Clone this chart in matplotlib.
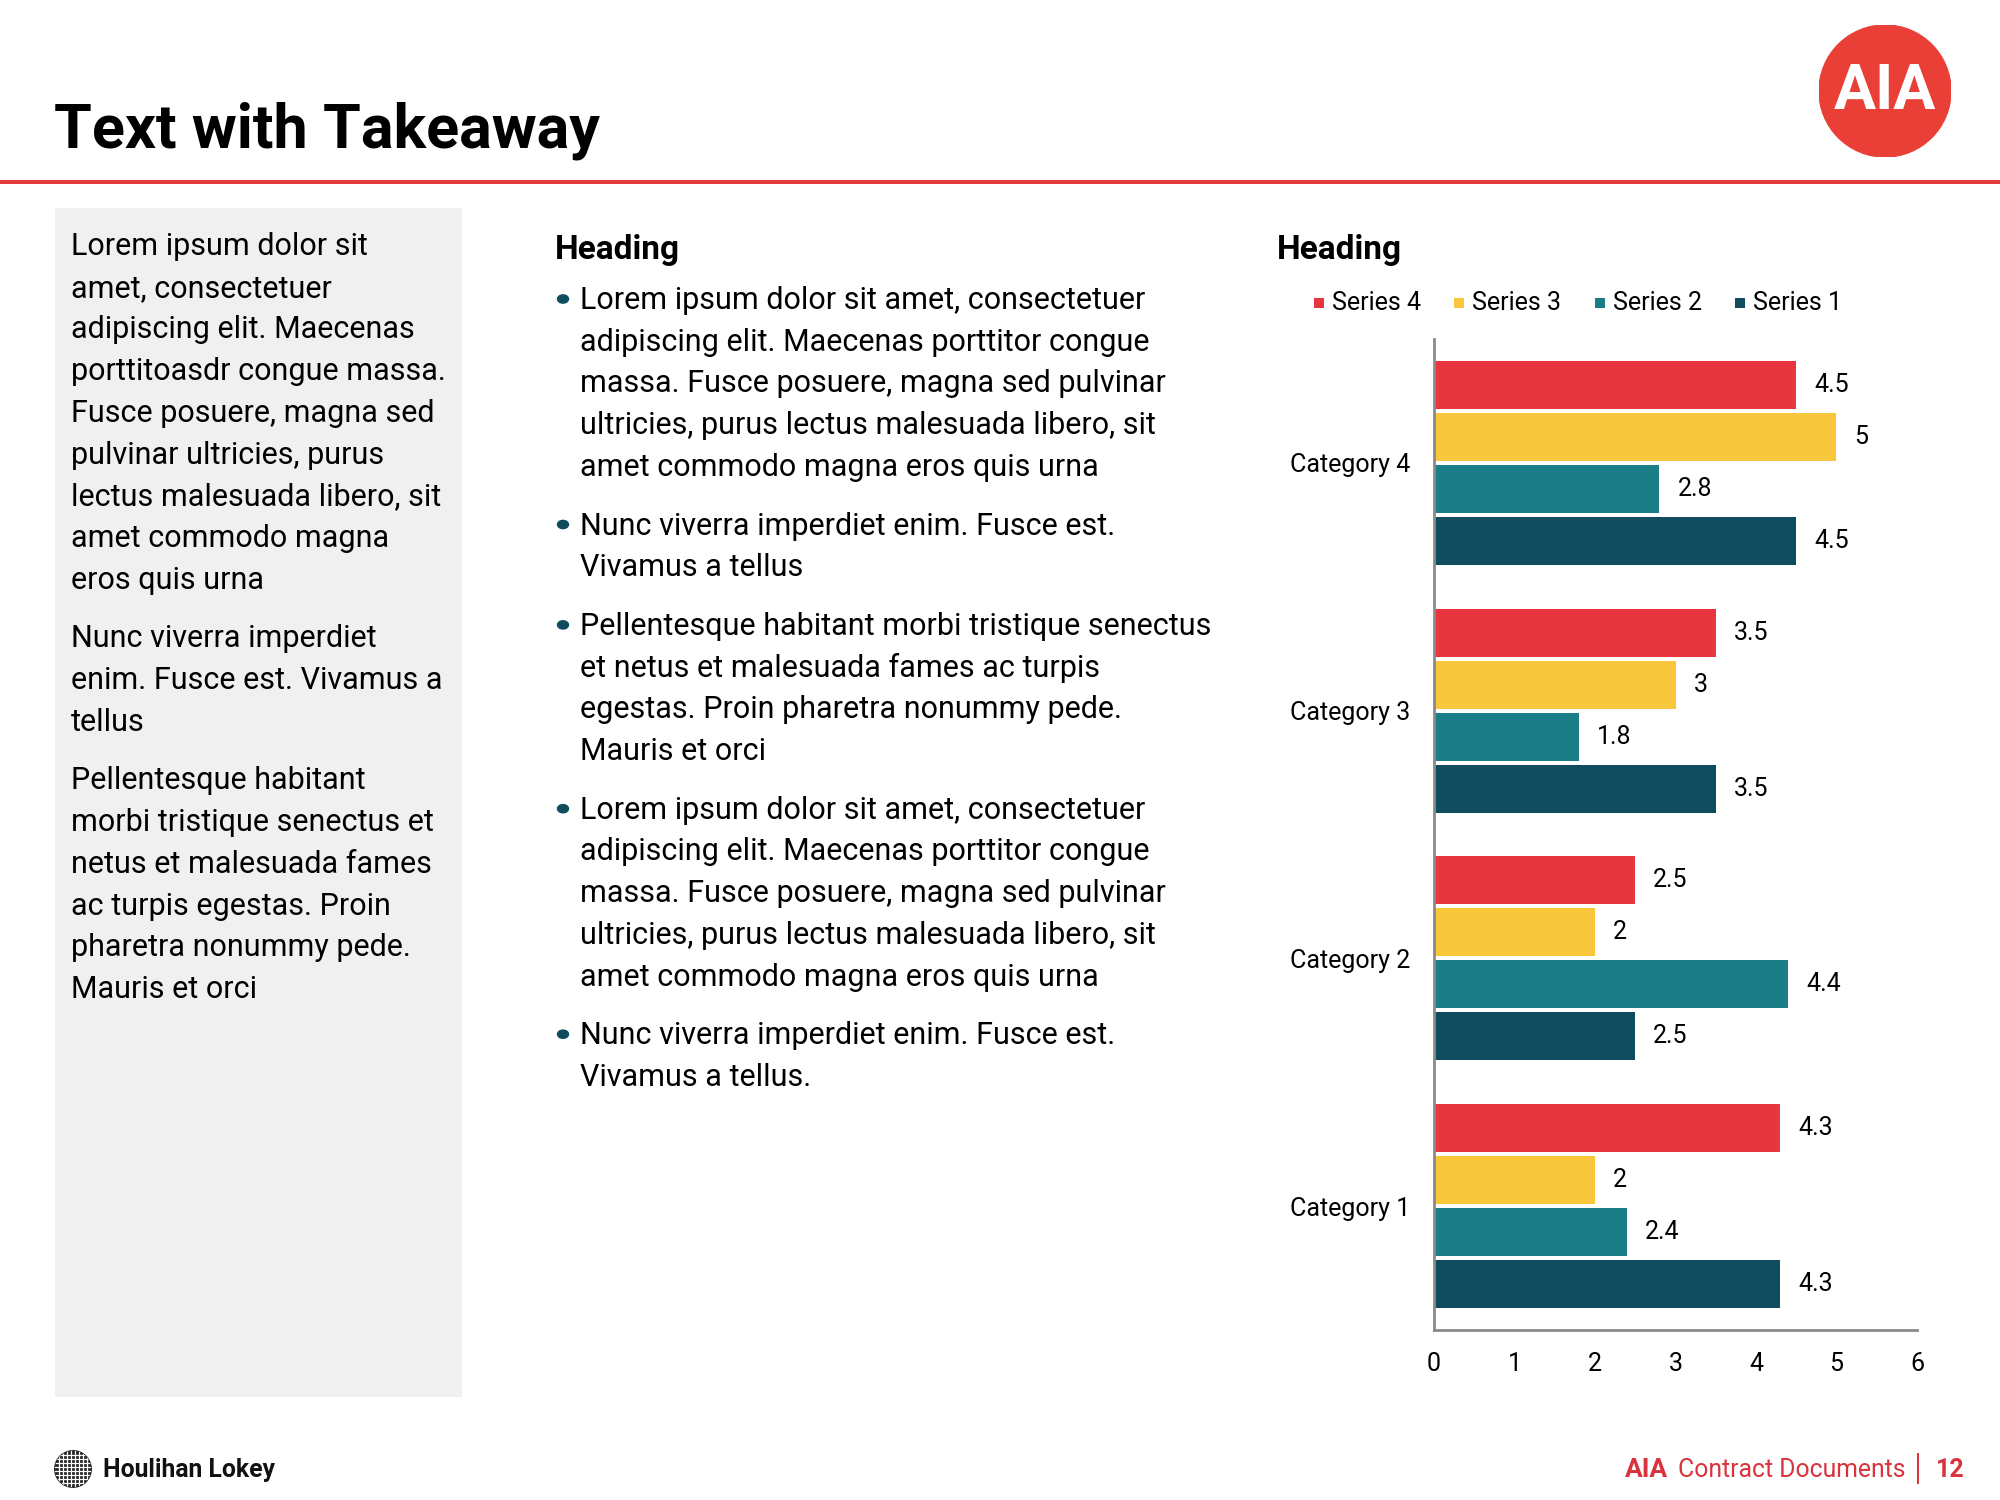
import numpy as np
import matplotlib
matplotlib.use("Agg")
import matplotlib.pyplot as plt
from matplotlib.patches import Circle, Rectangle

# Chart data
categories = ["Category 1", "Category 2", "Category 3", "Category 4"]
series_names = ["Series 1", "Series 2", "Series 3", "Series 4"]
series_1 = [4.3, 2.5, 3.5, 4.5]
series_2 = [2.4, 4.4, 1.8, 2.8]
series_3 = [2, 2, 3, 5]
series_4 = [4.3, 2.5, 3.5, 4.5]
series_colors = ["#0f4d5e", "#1a7d87", "#f9c73c", "#e8363f"]
x_ticks = [0, 1, 2, 3, 4, 5, 6]

# Slide text
title = "Text with Takeaway"
left_paragraphs = [
    ["Lorem ipsum dolor sit", "amet, consectetuer", "adipiscing elit. Maecenas",
     "porttitoasdr congue massa.", "Fusce posuere, magna sed", "pulvinar ultricies, purus",
     "lectus malesuada libero, sit", "amet commodo magna", "eros quis urna"],
    ["Nunc viverra imperdiet", "enim. Fusce est. Vivamus a", "tellus"],
    ["Pellentesque habitant", "morbi tristique senectus et", "netus et malesuada fames",
     "ac turpis egestas. Proin", "pharetra nonummy pede.", "Mauris et orci"],
]
bullets = [
    ["Lorem ipsum dolor sit amet, consectetuer", "adipiscing elit. Maecenas porttitor congue",
     "massa. Fusce posuere, magna sed pulvinar", "ultricies, purus lectus malesuada libero, sit",
     "amet commodo magna eros quis urna"],
    ["Nunc viverra imperdiet enim. Fusce est.", "Vivamus a tellus"],
    ["Pellentesque habitant morbi tristique senectus", "et netus et malesuada fames ac turpis",
     "egestas. Proin pharetra nonummy pede.", "Mauris et orci"],
    ["Lorem ipsum dolor sit amet, consectetuer", "adipiscing elit. Maecenas porttitor congue",
     "massa. Fusce posuere, magna sed pulvinar", "ultricies, purus lectus malesuada libero, sit",
     "amet commodo magna eros quis urna"],
    ["Nunc viverra imperdiet enim. Fusce est.", "Vivamus a tellus."],
]

W, H = 2000, 1500
RED = "#e23b3f"
FONT = "Roboto"

def fx(x):
    return x / W

def fy(y):
    return 1 - y / H

fig = plt.figure(figsize=(20, 15), dpi=100)
fig.patch.set_facecolor("white")

# header
fig.text(fx(54), fy(148), title, fontsize=44, fontweight="bold", family=FONT, va="baseline")
fig.add_artist(Rectangle((0, fy(184)), 1, 4 / H, transform=fig.transFigure, color=RED, lw=0))

# AIA logo
logo = fig.add_axes([fx(1819), fy(157), 132 / W, 132 / H])
logo.add_patch(Circle((0.5, 0.5), 0.5, color="#ea3f36"))
logo.text(0.5, 0.49, "AIA", color="white", fontsize=45, fontweight="bold",
          family=FONT, ha="center", va="center")
logo.set_xlim(0, 1)
logo.set_ylim(0, 1)
logo.axis("off")

# left grey panel
fig.add_artist(Rectangle((fx(55), fy(1397)), (462 - 55) / W, (1397 - 208) / H,
                         transform=fig.transFigure, color="#f0f0f0", lw=0))

line_h = 41.7
para_gap = 17
body_size = 22

y = 255
for para in left_paragraphs:
    for line in para:
        fig.text(fx(71), fy(y), line, fontsize=body_size, family=FONT, va="baseline")
        y += line_h
    y += para_gap

# middle column
fig.text(fx(555), fy(259), "Heading", fontsize=24, fontweight="bold", family=FONT, va="baseline")
y = 309
for para in bullets:
    fig.add_artist(Circle((fx(563), fy(y - 10)), 5.5 / W, transform=fig.transFigure,
                          color="#0f4d5e"))
    for line in para:
        fig.text(fx(580), fy(y), line, fontsize=body_size, family=FONT, va="baseline")
        y += line_h
    y += para_gap

# right column: chart
fig.text(fx(1277), fy(259), "Heading", fontsize=24, fontweight="bold", family=FONT, va="baseline")

chart_size = 18
legend_x = [1740, 1600, 1459, 1319]
for name, color, lx in zip(series_names, series_colors, legend_x):
    fig.add_artist(Rectangle((fx(lx - 5), fy(308)), 10 / W, 10 / H,
                             transform=fig.transFigure, color=color, lw=0))
    fig.text(fx(lx + 13), fy(310), name, fontsize=chart_size, family=FONT, va="baseline")

ax = fig.add_axes([fx(1434), fy(1330), (1917 - 1434) / W, (1330 - 339) / H])
pos = np.arange(len(categories))
step = 0.21
height = 0.194
all_series = [series_1, series_2, series_3, series_4]
for i, (vals, color) in enumerate(zip(all_series, series_colors)):
    bars = ax.barh(pos + (i - 1.5) * step, vals, height=height, color=color)
    ax.bar_label(bars, labels=[f"{v:g}" for v in vals], padding=13,
                 fontsize=chart_size, family=FONT)

ax.set_xlim(0, 6)
ax.set_ylim(-0.5, 3.5)
ax.set_xticks(x_ticks)
ax.set_yticks(pos)
ax.set_yticklabels(categories)
ax.tick_params(axis="both", length=0, labelsize=chart_size)
ax.tick_params(axis="y", pad=17)
ax.tick_params(axis="x", pad=16)
for lab in ax.get_xticklabels() + ax.get_yticklabels():
    lab.set_family(FONT)
for side in ["top", "right"]:
    ax.spines[side].set_visible(False)
for side in ["left", "bottom"]:
    ax.spines[side].set_color("#8a8a8a")
    ax.spines[side].set_linewidth(2)

# footer: Houlihan Lokey
globe = fig.add_axes([fx(54), fy(1488), 38 / W, 38 / H])
g = Circle((0.5, 0.5), 0.48, color="#222222")
globe.add_patch(g)
for t in np.linspace(0.12, 0.88, 8):
    l1, = globe.plot([t, t], [0, 1], color="white", lw=0.9)
    l2, = globe.plot([0, 1], [t, t], color="white", lw=0.9)
    l1.set_clip_path(g)
    l2.set_clip_path(g)
globe.set_xlim(0, 1)
globe.set_ylim(0, 1)
globe.axis("off")
fig.text(fx(103), fy(1477), "Houlihan Lokey", fontsize=17.8, fontweight="bold",
         family=FONT, va="baseline", color="#111111")

# footer: AIA Contract Documents | 12
FOOT_RED = "#d9343d"
fig.text(fx(1625), fy(1477), "AIA", fontsize=19, fontweight="bold", family=FONT,
         va="baseline", color=FOOT_RED)
fig.text(fx(1678), fy(1477), "Contract Documents", fontsize=17.8, family=FONT,
         va="baseline", color=FOOT_RED)
fig.add_artist(Rectangle((fx(1917), fy(1484)), 2 / W, 31 / H,
                         transform=fig.transFigure, color=FOOT_RED, lw=0))
fig.text(fx(1936), fy(1477), "12", fontsize=18, fontweight="bold", family=FONT,
         va="baseline", color=FOOT_RED)

fig.savefig("out.png", dpi=100)
